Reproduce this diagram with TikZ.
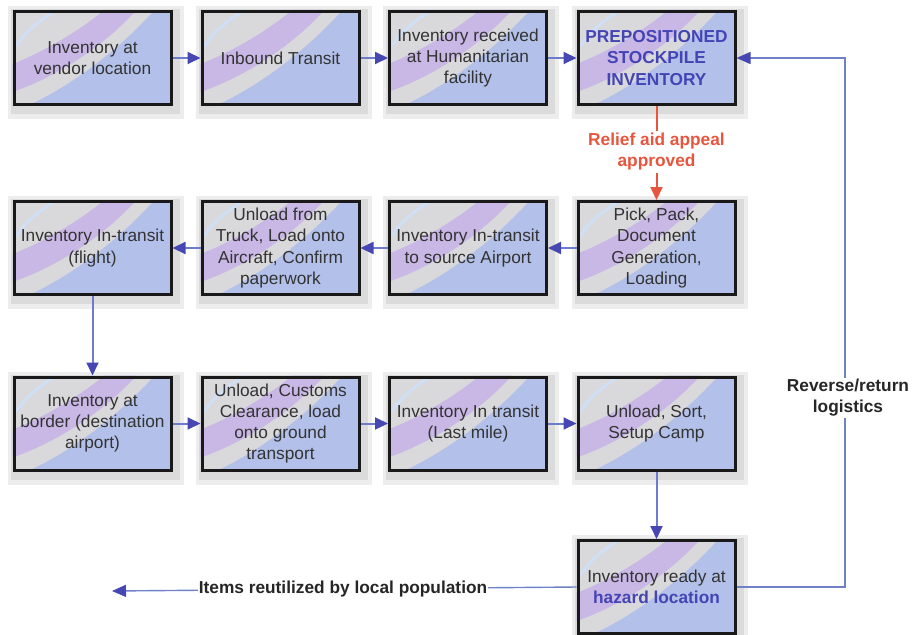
\documentclass[tikz,border=0pt]{standalone}
\usepackage{fontspec}
\setmainfont{Liberation Sans}
\usetikzlibrary{arrows.meta,backgrounds}

\definecolor{boxblue}{HTML}{B3C1EA}
\definecolor{swirlgray}{HTML}{D9D9DC}
\definecolor{swirllav}{HTML}{C9B7E6}
\definecolor{swirlpale}{HTML}{CFE0F6}
\definecolor{flowline}{HTML}{6C7BCB}
\definecolor{flowhead}{HTML}{4747B3}
\definecolor{titleblue}{HTML}{4444B4}
\definecolor{approvalred}{HTML}{E8553E}
\definecolor{boxtext}{HTML}{333333}
\definecolor{returnline}{HTML}{6F82C8}

\tikzset{
  boxfont/.style={font=\fontsize{17.3}{21.3}\selectfont},
  stepbox/.style={boxfont, draw=black!90, line width=3pt,
    minimum width=157pt, minimum height=93pt, inner sep=1pt,
    align=center, text=boxtext},
  titlebox/.style={stepbox, text=titleblue, font=\fontsize{17.3}{21.8}\selectfont\bfseries},
  flow/.style={draw=flowline, line width=2pt,
    -{Triangle[length=13pt,width=12pt,color=flowhead]}},
  retline/.style={draw=returnline, line width=1.4pt},
  reddash/.style={draw=approvalred, line width=2pt},
  redlabel/.style={font=\fontsize{17.3}{21}\selectfont\bfseries, text=approvalred,
    align=center, inner sep=2pt},
  blacklabel/.style={font=\fontsize{17.3}{21}\selectfont\bfseries, text=black!85,
    align=center, fill=white, inner sep=1pt}
}

\begin{document}
\begin{tikzpicture}[x=1pt,y=-1pt]
\useasboundingbox (0,0) rectangle (912,634);

% first row: stock build-up
\node[stepbox]  (a1) at (92.5,58)  {Inventory at\\vendor location};
\node[stepbox]  (a2) at (280.5,58) {Inbound Transit};
\node[stepbox]  (a3) at (468,58)   {Inventory received\\at Humanitarian\\facility};
\node[titlebox] (a4) at (656.5,58) {PREPOSITIONED\\STOCKPILE\\INVENTORY};

% second row: dispatch to the airport
\node[stepbox] (b4) at (656.5,248) {Pick, Pack,\\Document\\Generation,\\Loading};
\node[stepbox] (b3) at (468,248)   {Inventory In-transit\\to source Airport};
\node[stepbox] (b2) at (280.5,248) {Unload from\\Truck, Load onto\\Aircraft, Confirm\\paperwork};
\node[stepbox] (b1) at (92.5,248)  {Inventory In-transit\\(flight)};

% third row: arrival and last mile
\node[stepbox] (c1) at (92.5,423.5)  {Inventory at\\border (destination\\airport)};
\node[stepbox] (c2) at (280.5,423.5) {Unload, Customs\\Clearance, load\\onto ground\\transport};
\node[stepbox] (c3) at (468,423.5)   {Inventory In transit\\(Last mile)};
\node[stepbox] (c4) at (656.5,423.5) {Unload, Sort,\\Setup Camp};

% final stage
\node[stepbox] (d) at (656.5,587) {Inventory ready at\\{\bfseries\color{titleblue}hazard location}};

% shadows and swirl backgrounds behind every box
\begin{scope}[on background layer]
  \foreach \n in {a1,a2,a3,a4,b1,b2,b3,b4,c1,c2,c3,c4,d} {
    \fill[black!7]  ([shift={(-5,-4)}]\n.north west) rectangle ([shift={(11,13)}]\n.south east);
    \fill[black!14] ([shift={(-2,-1)}]\n.north west) rectangle ([shift={(7,8)}]\n.south east);
    \begin{scope}
      \clip (\n.north west) rectangle (\n.south east);
      \fill[boxblue] (\n.north west) rectangle (\n.south east);
      \begin{scope}[shift={(\n.north west)}]
        % grey sweep covering the upper left part of the box
        \fill[swirlgray] (0,0) -- (142,0) .. controls (104,42) and (52,82) .. (0,102) -- cycle;
        % lavender band across the grey sweep
        \fill[swirllav] (0,54) .. controls (36,40) and (70,18) .. (92,0) -- (124,0)
          .. controls (97,30) and (52,64) .. (0,82) -- cycle;
        % pale arc in the upper left corner
        \draw[swirlpale, line width=3pt] (44,0) .. controls (28,10) and (13,21) .. (4,36);
      \end{scope}
    \end{scope}
  }
\end{scope}

% main flow
\draw[flow] (a1) -- (a2);
\draw[flow] (a2) -- (a3);
\draw[flow] (a3) -- (a4);
\draw[flow] (b4) -- (b3);
\draw[flow] (b3) -- (b2);
\draw[flow] (b2) -- (b1);
\draw[flow] (b1) -- (c1);
\draw[flow] (c1) -- (c2);
\draw[flow] (c2) -- (c3);
\draw[flow] (c3) -- (c4);
\draw[flow] (c4) -- (d);

% release of the stockpile
\node[redlabel] (ra) at (656.5,152) {Relief aid appeal\\approved};
\draw[reddash] (a4) -- (ra);
\draw[reddash, -{Triangle[length=13pt,width=12pt,color=approvalred]}] (ra) -- (b4);

% reverse logistics loop back to the stockpile
\coordinate (rc) at (845,587);
\draw[retline, -{Triangle[length=14pt,width=12pt,color=flowhead]}] (d.east) -- (rc) |- (a4.east);
\node[blacklabel] (rl) at (848,398) {Reverse/return\\logistics};

% local reuse
\coordinate (ie) at (112,591);
\draw[retline, -{Triangle[length=14pt,width=12pt,color=flowhead]}] (d.west) -- (ie);
\node[blacklabel] (il) at (343,589) {Items reutilized by local population};
\end{tikzpicture}
\end{document}
